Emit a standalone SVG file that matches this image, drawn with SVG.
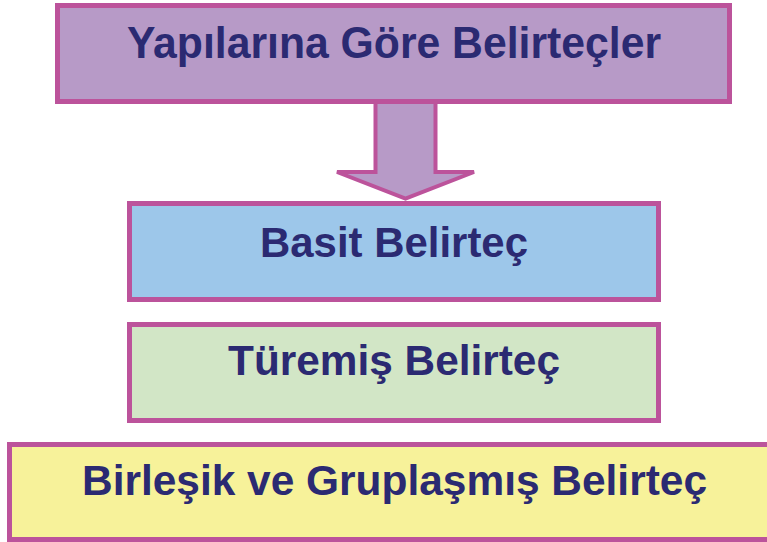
<svg xmlns="http://www.w3.org/2000/svg" width="767" height="542" viewBox="0 0 767 542">
<style>
.box{stroke:#BC539B;stroke-width:5}
.lbl{font-family:"Liberation Sans",Arial,sans-serif;font-weight:bold;font-size:42px;fill:#2B2A72;text-anchor:middle}
</style>
<rect width="767" height="542" fill="#FFFFFF"/>
<g id="connectors">
<polygon points="375.5,100 435.5,100 435.5,172 474,172 405.5,198.5 337,172 375.5,172" fill="#B79AC7" stroke="#BC539B" stroke-width="4" stroke-linejoin="miter"/>
</g>
<g id="n1">
<rect class="box" x="57.5" y="5.5" width="672" height="96" fill="#B79AC7"/>
<text class="lbl" x="394" y="57.5" font-size="44" style="font-size:44px" textLength="534" lengthAdjust="spacingAndGlyphs">Yapılarına Göre Belirteçler</text>
</g>
<g id="n2">
<rect class="box" x="129.5" y="203.5" width="529" height="96" fill="#9DC7EA"/>
<text class="lbl" x="394" y="257" textLength="268" lengthAdjust="spacingAndGlyphs">Basit Belirteç</text>
</g>
<g id="n3">
<rect class="box" x="129.5" y="324.5" width="529" height="96" fill="#D2E6C6"/>
<text class="lbl" x="394" y="375" textLength="332" lengthAdjust="spacingAndGlyphs">Türemiş Belirteç</text>
</g>
<g id="n4">
<rect class="box" x="9.5" y="444.5" width="770" height="95" fill="#F7F29A"/>
<text class="lbl" x="394.5" y="495" textLength="625" lengthAdjust="spacingAndGlyphs">Birleşik ve Gruplaşmış Belirteç</text>
</g>
</svg>
